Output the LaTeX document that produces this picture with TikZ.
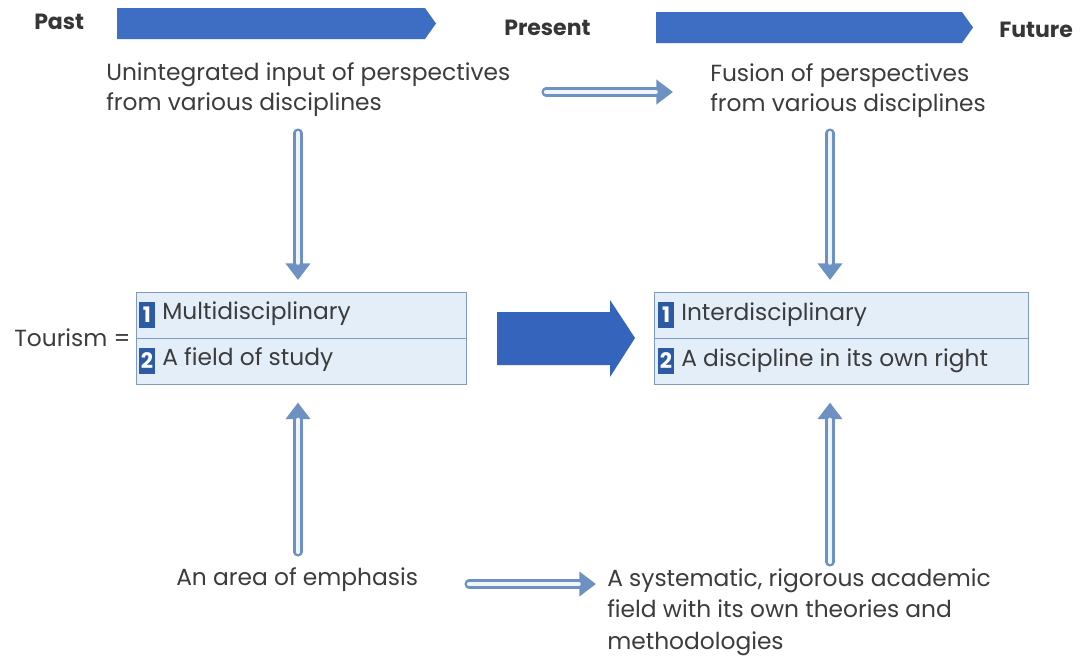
\documentclass[tikz,border=0pt]{standalone}
\usepackage{fontspec}
\setmainfont{Poppins}
\usetikzlibrary{arrows.meta}
\definecolor{barblue}{RGB}{62,110,196}
\definecolor{bigblue}{RGB}{52,100,188}
\definecolor{sqblue}{RGB}{44,90,165}
\definecolor{boxfill}{RGB}{228,238,248}
\definecolor{boxedge}{RGB}{125,155,195}
\definecolor{holedge}{RGB}{110,145,195}
\definecolor{holfill}{RGB}{240,245,251}
\definecolor{textgray}{RGB}{60,60,60}
\tikzset{
  txt/.style={anchor=west, align=left, inner sep=0pt, text=textgray, font=\fontsize{17.5}{22.5}\selectfont},
  lbl/.style={anchor=west, inner sep=0pt, text=textgray!90!black, font=\fontsize{16.5}{18}\selectfont\bfseries},
  boxst/.style={draw=boxedge, fill=boxfill, line width=0.9pt, inner sep=0pt, anchor=north west},
  sq/.style={fill=sqblue, text=white, inner sep=0pt, minimum width=12.5pt, minimum height=20pt, font=\fontsize{16}{16}\selectfont\bfseries},
  holout/.style={draw=holedge, line width=6.8pt, line cap=round, -{Triangle[length=12.5pt,width=18pt]}},
  holin/.style={draw=holfill, line width=3.2pt, line cap=round},
}
\newcommand\hollowarrow[3]{%
  \draw[holout, shorten >=#3] (#1) -- (#2);
  \draw[holin, shorten >=#3+13pt] (#1) -- (#2);}
\begin{document}
\begin{tikzpicture}[x=0.75pt,y=-0.75pt]
\useasboundingbox[fill=white] (0,0) rectangle (1080,665);
% timeline bars
\fill[barblue] (117,8) -- (425,8) -- (436,23.5) -- (425,39) -- (117,39) -- cycle;
\fill[barblue] (656,12) -- (962,12) -- (973,27.5) -- (962,43) -- (656,43) -- cycle;
\node[lbl] (past) at (34,22) {Past};
\node[lbl] (present) at (504,28) {Present};
\node[lbl] (future) at (999,30) {Future};
% texts
\node[txt] (ui) at (106,90) {Unintegrated input of perspectives\\from various disciplines};
\node[txt] (fu) at (710,91) {Fusion of perspectives\\from various disciplines};
\node[txt] (tour) at (14,338) {Tourism =};
\node[txt] (area) at (176,580) {An area of emphasis};
\node[txt, font=\fontsize{17.5}{23.5}\selectfont] (sys) at (607,612) {A systematic, rigorous academic\\field with its own theories and\\methodologies};
% boxes
\node[boxst, minimum width=247.5pt, minimum height=69pt] (lbox) at (136,292) {};
\draw[boxedge, line width=0.9pt] (lbox.west) -- (lbox.east);
\node[boxst, minimum width=280.5pt, minimum height=69pt] (rbox) at (654,292) {};
\draw[boxedge, line width=0.9pt] (rbox.west) -- (rbox.east);
\node[sq] (l1) at (147,315) {1};
\node[sq] (l2) at (147,361) {2};
\node[sq] (r1) at (666,315) {1};
\node[sq] (r2) at (666,361) {2};
\node[txt] (lt1) at (162,314) {Multidisciplinary};
\node[txt] (lt2) at (162,360) {A field of study};
\node[txt] (rt1) at (681,315) {Interdisciplinary};
\node[txt] (rt2) at (681,361) {A discipline in its own right};
% big arrow
\fill[bigblue] (497,312) -- (610,312) -- (610,300) -- (635,338) -- (610,377) -- (610,365) -- (497,365) -- cycle;
% hollow arrows
\coordinate (h1a) at (546,92);
\coordinate (h1b) at (673,92);
\hollowarrow{h1a}{h1b}{0pt}
\coordinate (h2a) at (469,584);
\coordinate (h2b) at (596,584);
\hollowarrow{h2a}{h2b}{0pt}
\coordinate (d1a) at (298,133);
\hollowarrow{d1a}{d1a |- lbox.north}{9pt}
\coordinate (d2a) at (830,133);
\hollowarrow{d2a}{d2a |- rbox.north}{9pt}
\coordinate (u1a) at (298,552);
\hollowarrow{u1a}{u1a |- lbox.south}{13pt}
\coordinate (u2a) at (830,562);
\hollowarrow{u2a}{u2a |- rbox.south}{13pt}
\end{tikzpicture}
\end{document}
